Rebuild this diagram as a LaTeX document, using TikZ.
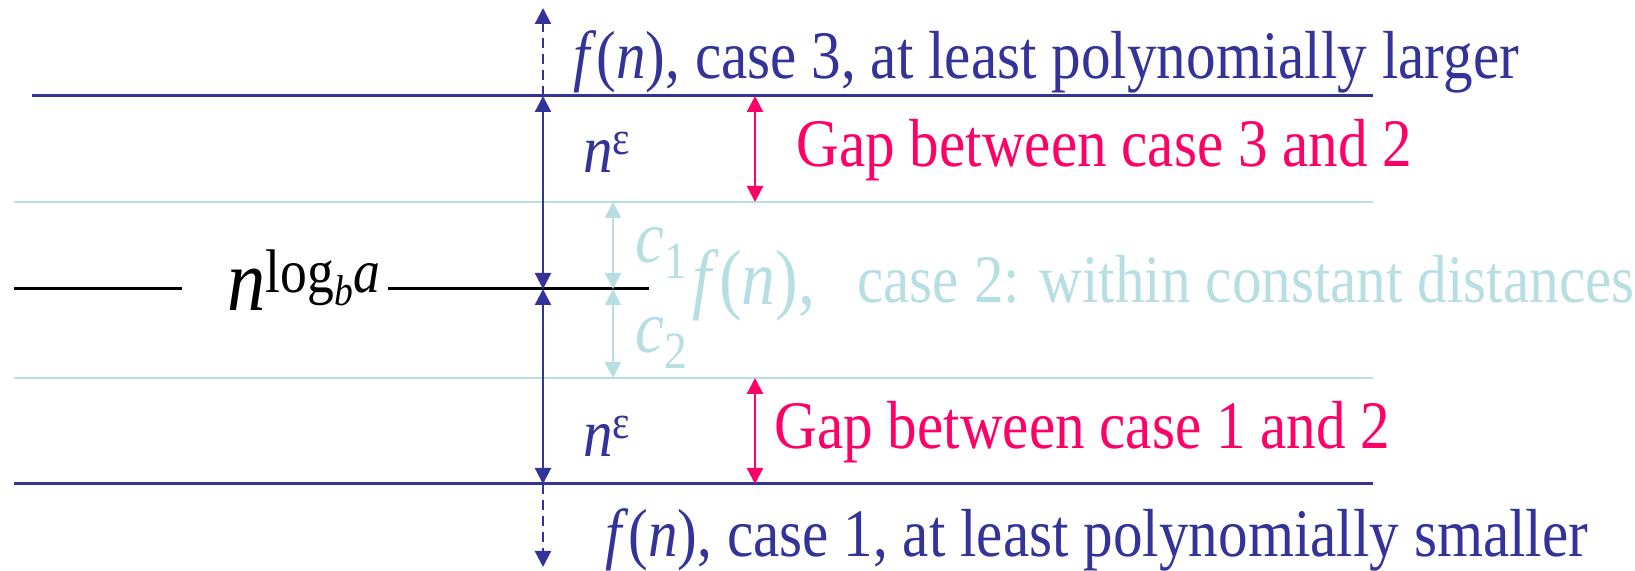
\documentclass[tikz,border=0pt]{standalone}
\usepackage{fontspec}
\setmainfont{Liberation Serif}[FakeStretch=0.87]
\usetikzlibrary{arrows.meta}
\definecolor{deep}{HTML}{333399}
\definecolor{hot}{HTML}{FF0066}
\definecolor{pale}{HTML}{B7DFE3}
\tikzset{
  bound/.style={line width=1.5pt,draw=deep},
  band/.style={line width=1pt,draw=pale},
  base/.style={line width=1.5pt,draw=black},
  span/.style={{Triangle[length=8pt,width=8pt]}-{Triangle[length=8pt,width=8pt]},line width=1.1pt},
  beyond/.style={-{Triangle[length=8pt,width=8pt]},line width=1.1pt,draw=deep,dash pattern=on 5pt off 3pt},
  label/.style={anchor=base west,inner sep=0pt,font=\fontsize{34}{40}\selectfont},
  big/.style={anchor=base west,inner sep=0pt,font=\fontsize{44}{52}\selectfont}
}
\newcommand{\fn}{\textit{f}(\textit{n})}

\begin{document}
\begin{tikzpicture}[x=0.5pt,y=-0.5pt]
  \useasboundingbox (0,0) rectangle (1635,571);
  % horizontal levels, measured in pixels from the top
  \coordinate (hiL) at (32,96);   \coordinate (hiR) at (1373,96);
  \coordinate (upL) at (14,202);  \coordinate (upR) at (1373,202);
  \coordinate (midL) at (14,289); \coordinate (midA) at (182,289);
  \coordinate (midB) at (388,289); \coordinate (midR) at (649,289);
  \coordinate (loL) at (14,378);  \coordinate (loR) at (1373,378);
  \coordinate (botL) at (14,484); \coordinate (botR) at (1373,484);
  % vertical axes of the arrows
  \coordinate (ax) at (543,0);
  \coordinate (cx) at (613,0);
  \coordinate (gx) at (755,0);
  \coordinate (topEnd) at (543,8);
  \coordinate (botEnd) at (543,567);

  \draw[band] (upL) -- (upR);
  \draw[band] (loL) -- (loR);
  \draw[bound] (hiL) -- (hiR);
  \draw[bound] (botL) -- (botR);
  \draw[base] (midL) -- (midA);
  \draw[base] (midB) -- (midR);

  \draw[span,draw=deep,fill=deep] (ax |- hiL) -- (ax |- midL);
  \draw[span,draw=deep,fill=deep] (ax |- midL) -- (ax |- botL);
  \draw[beyond] (ax |- hiL) -- (topEnd);
  \draw[beyond] (ax |- botL) -- (botEnd);
  \draw[span,draw=pale,fill=pale] (cx |- upL) -- (cx |- midL);
  \draw[span,draw=pale,fill=pale] (cx |- midL) -- (cx |- loL);
  \draw[span,draw=hot,fill=hot] (gx |- hiL) -- (gx |- upL);
  \draw[span,draw=hot,fill=hot] (gx |- loL) -- (gx |- botL);

  \node[label,text=deep] (case3) at (573,79)
    {\fn, case 3, at least polynomially larger};
  \node[label,text=deep] (eps3) at (583,173) {\textit{n}\textsuperscript{ε}};
  \node[label,text=hot] (gap3) at (796,167) {Gap between case 3 and 2};
  \node[label,text=pale,scale=1.1] (c1) at (635,263) {\textit{c}\textsubscript{1}};
  \node[label,text=pale,scale=1.15] (fn2) at (692,305) {\fn,};
  \node[label,text=pale] (case2) at (857,303) {case 2: within constant distances};
  \node[label,text=pale,scale=1.1] (c2) at (635,353) {\textit{c}\textsubscript{2}};
  \node[big] (nlog) at (227,311)
    {\textit{n}\textsuperscript{log\textsubscript{\textit{b}}\textit{a}}};
  \node[label,text=deep] (eps1) at (583,457) {\textit{n}\textsuperscript{ε}};
  \node[label,text=hot] (gap1) at (774,449) {Gap between case 1 and 2};
  \node[label,text=deep] (case1) at (605,557)
    {\fn, case 1, at least polynomially smaller};
\end{tikzpicture}
\end{document}
